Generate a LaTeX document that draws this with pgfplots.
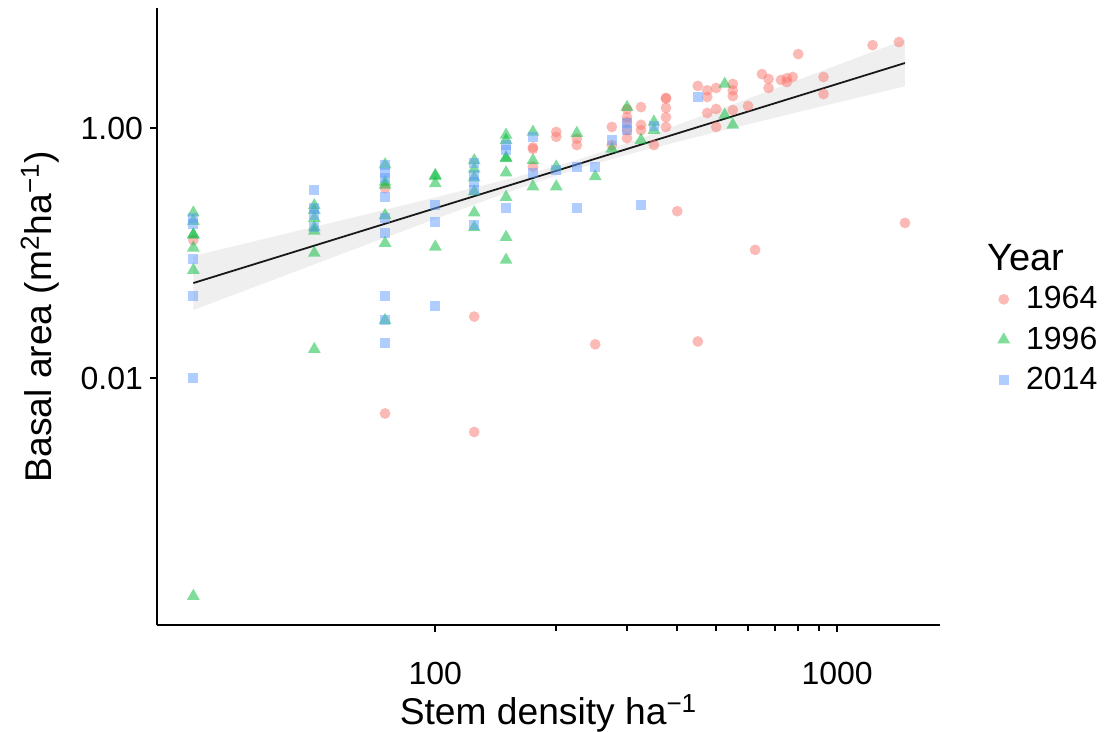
\documentclass[border=0pt]{standalone}
\usepackage{pgfplots}
\pgfplotsset{compat=1.18}
\usepackage{pgfplotstable}
\usepackage{fontspec}
\setmainfont{Liberation Sans}

\definecolor{c64}{HTML}{F8766D}
\definecolor{c96}{HTML}{00BA38}
\definecolor{c14}{HTML}{619CFF}
\definecolor{band}{HTML}{EFEFEF}

% stem density (ha^-1), basal area (m2 ha^-1)
\pgfplotstableread{
x y
25 0.127
75 0.33
75 0.0052
125 0.031
125 0.0037
175 0.70
175 0.68
175 0.49
200 0.93
200 0.85
225 0.82
225 0.73
250 0.0186
275 1.02
275 0.73
300 1.41
300 1.22
300 1.12
300 0.96
300 0.83
325 1.47
325 1.06
325 0.96
350 0.73
375 1.74
375 1.72
375 1.45
375 1.22
375 1.02
400 0.216
450 2.17
450 0.0196
475 2.0
475 1.77
475 1.32
500 2.09
500 1.42
500 1.02
550 2.25
550 2.0
550 1.8
550 1.39
600 1.50
625 0.106
650 2.7
675 2.47
675 2.09
725 2.42
750 2.5
750 2.33
775 2.56
800 3.9
925 2.56
925 1.87
1225 4.6
1425 4.87
1475 0.174
}\yrA

\pgfplotstableread{
x y
25 0.21
25 0.18
25 0.14
25 0.14
25 0.11
25 0.073
25 0.00018
50 0.24
50 0.22
50 0.19
50 0.16
50 0.15
50 0.10
50 0.017
75 0.51
75 0.37
75 0.35
75 0.20
75 0.12
75 0.029
100 0.42
100 0.41
100 0.36
100 0.112
125 0.55
125 0.47
125 0.40
125 0.31
125 0.21
125 0.16
150 0.88
150 0.80
150 0.58
150 0.57
150 0.44
150 0.28
150 0.134
150 0.088
175 0.93
175 0.55
175 0.34
200 0.49
200 0.34
225 0.91
250 0.41
275 0.68
300 1.47
325 0.80
350 1.12
350 0.96
525 2.25
525 1.27
550 1.06
}\yrB

\pgfplotstableread{
x y
25 0.19
25 0.17
25 0.089
25 0.045
25 0.01
50 0.32
50 0.23
50 0.20
50 0.16
75 0.51
75 0.44
75 0.40
75 0.28
75 0.19
75 0.145
75 0.045
75 0.029
75 0.019
100 0.24
100 0.177
100 0.038
125 0.52
125 0.42
125 0.37
125 0.32
125 0.167
150 0.73
150 0.67
150 0.23
175 0.85
175 0.44
200 0.46
225 0.49
225 0.23
250 0.49
275 0.80
300 1.1
300 0.96
325 0.24
350 1.04
450 1.77
}\yrC

\begin{document}
\begin{tikzpicture}
\path[use as bounding box] (-78.5pt,-53.5pt) rectangle (481.5pt,312.5pt);
\begin{axis}[
    xmode=log, ymode=log,
    scale only axis,
    width=391.5pt, height=308.5pt,
    xmin=20.3, xmax=1803,
    ymin=1.057e-4, ymax=9.12,
    axis lines=left,
    axis line style={-, line width=0.9pt},
    tick style={line width=0.9pt, black},
    tick align=outside,
    major tick length=3.5pt,
    xtick={100,1000}, xticklabels={100,1000},
    ytick={0.01,1}, yticklabels={0.01,1.00},
    minor xtick={}, minor ytick={},
    ticklabel style={font=\fontsize{16}{18}\selectfont},
    x tick label style={yshift=-11.5pt},
    xlabel={Stem density ha\textsuperscript{−1}},
    ylabel={Basal area (m\textsuperscript{2}ha\textsuperscript{−1})},
    label style={font=\fontsize{18.6}{21}\selectfont},
    xlabel style={at={(0.5,-0.143)}, anchor=center},
    ylabel style={at={(-0.1494,0.5)}, anchor=center},
    clip=false,
    legend style={at={(1.065,0.562)}, anchor=north west, draw=none, fill=none,
        font=\fontsize{16}{18}\selectfont, row sep=3.5pt,
        /tikz/every odd column/.append style={column sep=6pt}},
    legend cell align=left,
]
% confidence band and fitted line
\addplot[fill=band, draw=none, forget plot] coordinates {
    (25,0.0946) (39.8,0.1358) (63.1,0.194) (100,0.278) (158.5,0.4036)
    (223.9,0.5508) (316.2,0.8017) (501.2,1.380) (794.3,2.404) (1475,5.093)
    (1475,2.153) (794.3,1.334) (501.2,0.929) (316.2,0.6397) (223.9,0.4688)
    (158.5,0.3221) (100,0.1871) (63.1,0.1076) (39.8,0.0615) (25,0.0350)
} -- cycle;
\addplot[only marks, mark=*, mark size=2.7pt,
    mark options={fill=c64, draw opacity=0, fill opacity=0.5}] table {\yrA};
\addlegendentry{1964}
\addplot[only marks, mark=triangle*, mark size=3.7pt,
    mark options={fill=c96, draw opacity=0, fill opacity=0.5}] table {\yrB};
\addlegendentry{1996}
\addplot[only marks, mark=square*, mark size=2.5pt,
    mark options={fill=c14, draw opacity=0, fill opacity=0.5}] table {\yrC};
\addlegendentry{2014}
\addplot[line width=0.9pt, color=black!90, forget plot] coordinates {(25,0.0575) (1475,3.31)};
\node[anchor=west, font=\fontsize{19}{22}\selectfont] at (rel axis cs:1.052,0.595) {Year};
\end{axis}
\end{tikzpicture}
\end{document}
